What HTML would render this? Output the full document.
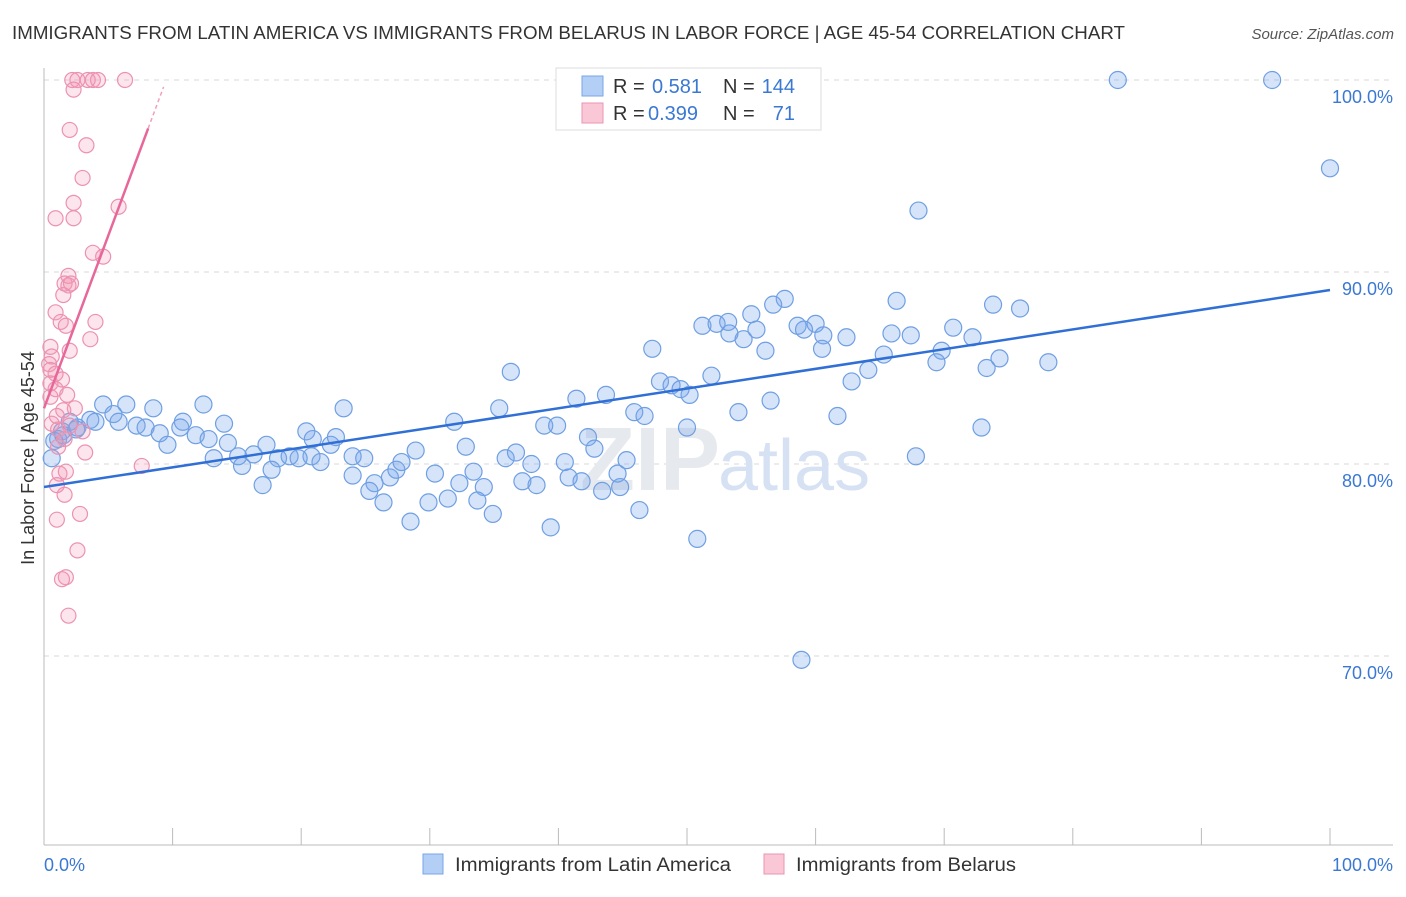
<!DOCTYPE html>
<html><head><meta charset="utf-8"><style>
body{margin:0;background:#fff;font-family:"Liberation Sans",sans-serif;}
svg text{font-family:"Liberation Sans",sans-serif;}
</style></head><body>
<svg id="chart" width="1406" height="892">
<text x="12" y="39" font-size="18" fill="#333" textLength="1113" lengthAdjust="spacingAndGlyphs">IMMIGRANTS FROM LATIN AMERICA VS IMMIGRANTS FROM BELARUS IN LABOR FORCE | AGE 45-54 CORRELATION CHART</text>
<text x="1394" y="39" font-size="15" fill="#555" font-style="italic" text-anchor="end">Source: ZipAtlas.com</text>
<text transform="translate(34,458) rotate(-90)" font-size="18" fill="#333" text-anchor="middle">In Labor Force | Age 45-54</text>
<g id="grid"></g>
<text x="720" y="490" font-size="90" fill="#e6e9ee" text-anchor="end" font-family="Liberation Serif" font-weight="bold">ZIP</text>
<text x="718" y="490" font-size="72" fill="#d6e2f3">atlas</text>
<g id="marks"></g>
<g>
<rect x="556" y="68" width="265" height="62" fill="#fff" stroke="#ddd"/>
<rect x="582" y="76" width="21" height="20" fill="#b3cff5" stroke="#7aa6e6"/>
<rect x="582" y="103" width="21" height="20" fill="#f9c7d6" stroke="#eb94b1"/>
<text x="613" y="93" font-size="20" fill="#333">R = </text><text x="652" y="93" font-size="20" fill="#3a78d4">0.581</text>
<text x="723" y="93" font-size="20" fill="#333">N = </text><text x="795" y="93" font-size="20" fill="#3a78d4" text-anchor="end">144</text>
<text x="613" y="120" font-size="20" fill="#333">R = </text><text x="648" y="120" font-size="20" fill="#3a78d4">0.399</text>
<text x="723" y="120" font-size="20" fill="#333">N = </text><text x="795" y="120" font-size="20" fill="#3a78d4" text-anchor="end">71</text>
</g>
<g>
<rect x="423" y="854" width="20" height="20" fill="#b3cff5" stroke="#7aa6e6"/>
<text x="455" y="871" font-size="19" fill="#333" textLength="276" lengthAdjust="spacingAndGlyphs">Immigrants from Latin America</text>
<rect x="764" y="854" width="20" height="20" fill="#f9c7d6" stroke="#eb94b1"/>
<text x="796" y="871" font-size="19" fill="#333" textLength="220" lengthAdjust="spacingAndGlyphs">Immigrants from Belarus</text>
</g>
<text x="44" y="871" font-size="18" fill="#3a78d4">0.0%</text>
<text x="1393" y="871" font-size="18" fill="#3a78d4" text-anchor="end">100.0%</text>
</svg>
<script>
const yTicks=[100,90,80,70];
const yTickLabels=["100.0%","90.0%","80.0%","70.0%"];
const blueX=[83.5,95.5,100,68.0,57.6,66.3,73.8,75.9,56.7,55.0,51.2,52.3,53.2,58.6,60.0,59.1,55.4,53.3,54.4,60.6,62.4,65.9,67.4,70.7,72.2,47.3,56.1,60.5,69.8,65.3,78.1,74.3,73.3,69.4,64.1,62.8,51.9,47.9,48.8,49.5,50.2,36.3,43.7,41.4,35.4,23.3,45.9,46.7,54.0,56.5,61.7,50.0,72.9,67.8,4.6,6.4,8.5,12.4,14.0,10.8,5.4,3.6,2.0,1.4,1.1,0.6,2.6,4.0,5.8,7.2,7.9,9.0,9.6,10.6,11.8,12.8,14.3,13.2,15.4,15.1,16.3,17.3,18.2,19.1,20.4,20.9,20.8,19.8,21.5,22.3,22.7,24.0,24.9,24.0,25.7,26.4,25.3,26.9,27.4,27.8,28.9,29.9,28.5,30.4,31.4,32.8,33.4,32.3,31.9,34.2,34.9,33.7,35.9,36.7,37.9,37.2,38.3,39.4,38.9,39.9,40.5,40.8,41.8,42.3,42.8,43.4,44.6,44.8,45.3,46.3,50.8,58.9,17.7,17.0,1.5,2.5,0.8];
const blueY=[100,100,95.4,93.2,88.6,88.5,88.3,88.1,88.3,87.8,87.2,87.3,87.4,87.2,87.3,87.0,87.0,86.8,86.5,86.7,86.6,86.8,86.7,87.1,86.6,86.0,85.9,86.0,85.9,85.7,85.3,85.5,85.0,85.3,84.9,84.3,84.6,84.3,84.1,83.9,83.6,84.8,83.6,83.4,82.9,82.9,82.7,82.5,82.7,83.3,82.5,81.9,81.9,80.4,83.1,83.1,82.9,83.1,82.1,82.2,82.6,82.3,82.2,81.7,81.3,80.3,81.9,82.2,82.2,82.0,81.9,81.6,81.0,81.9,81.5,81.3,81.1,80.3,79.9,80.4,80.5,81.0,80.3,80.4,81.7,81.3,80.4,80.3,80.1,81.0,81.4,80.4,80.3,79.4,79.0,78.0,78.6,79.3,79.7,80.1,80.7,78.0,77.0,79.5,78.2,80.9,79.6,79.0,82.2,78.8,77.4,78.1,80.3,80.6,80.0,79.1,78.9,76.7,82.0,82.0,80.1,79.3,79.1,81.4,80.8,78.6,79.5,78.8,80.2,77.6,76.1,69.8,79.7,78.9,81.5,81.8,81.2];
const pinkX=[2.2,2.6,3.4,3.8,4.2,6.3,2.3,2.0,3.3,3.0,2.3,0.9,2.3,5.8,3.8,4.6,1.9,1.6,1.9,2.1,1.5,0.9,4.0,1.3,1.7,3.6,2.0,0.5,0.6,0.4,0.5,0.9,1.4,0.5,0.9,1.8,0.5,2.4,1.5,1.0,0.6,1.1,2.0,3.0,1.6,1.1,3.2,7.6,1.2,1.7,1.6,1.0,2.8,1.0,2.6,1.7,1.4,1.9];
const pinkY=[100,100,100,100,100,100,99.5,97.4,96.6,94.9,93.6,92.8,92.8,93.4,91.0,90.8,89.8,89.4,89.3,89.4,88.8,87.9,87.4,87.4,87.2,86.5,85.9,86.1,85.6,85.2,84.9,84.7,84.4,84.2,83.9,83.6,83.5,82.9,82.8,82.5,82.1,81.8,82.0,81.7,81.3,80.9,80.6,79.9,79.5,79.6,78.4,78.9,77.4,77.1,75.5,74.1,74.0,72.1];
const blueFit=[78.8,89.06];
const pinkFit=[82.9,1.8];
const X=v=>44+v*12.86, Y=v=>80+(100-v)*19.2;
const NS="http://www.w3.org/2000/svg";
function mk(t,a,p){const e=document.createElementNS(NS,t);for(const k in a)e.setAttribute(k,a[k]);p.appendChild(e);return e;}
const g=document.getElementById('grid'), m=document.getElementById('marks');
yTicks.forEach((v,i)=>{
 const l=mk('line',{x1:44,x2:1393,y1:Y(v),y2:Y(v),stroke:'#d8d8d8','stroke-dasharray':'5,5'},g);
 
 
 const t=mk('text',{x:1393,y:Y(v)+23,'font-size':18,fill:'#3a78d4','text-anchor':'end'},g);
 t.textContent=yTickLabels[i];
 
 
});
const ax=mk('line',{x1:44,x2:1393,y1:845,y2:845,stroke:'#bbb'},g);


const ay=mk('line',{x1:44,x2:44,y1:68,y2:845,stroke:'#bbb'},g);


for(let i=0;i<=10;i++){const t=mk('line',{x1:X(i*10),x2:X(i*10),y1:828,y2:845,stroke:'#bbb'},g);
 
 }
blueX.forEach((x,i)=>{const c=mk('circle',{cx:X(x),cy:Y(blueY[i]),r:8.5,fill:'rgba(120,165,235,0.3)',stroke:'#6f9fe3','stroke-width':1.2},m);
 
 });
pinkX.forEach((x,i)=>{const c=mk('circle',{cx:X(x),cy:Y(pinkY[i]),r:7.5,fill:'rgba(245,150,180,0.25)',stroke:'#ec92b0','stroke-width':1.2},m);
 
 });
const bl=mk('line',{x1:X(0),y1:Y(blueFit[0]),x2:X(100),y2:Y(blueFit[1]),stroke:'#2f6fd6','stroke-width':2.5},m);


const pl=mk('line',{x1:X(0),y1:Y(pinkFit[0]),x2:X(8.1),y2:Y(pinkFit[0]+pinkFit[1]*8.1),stroke:'#e8679a','stroke-width':2.5},m);


const pd=mk('line',{x1:X(8.1),y1:Y(pinkFit[0]+pinkFit[1]*8.1),x2:X(9.3),y2:Y(pinkFit[0]+pinkFit[1]*9.3),stroke:'#f0a0bd','stroke-width':1.5,'stroke-dasharray':'4,3'},m);


</script>
</body></html>
